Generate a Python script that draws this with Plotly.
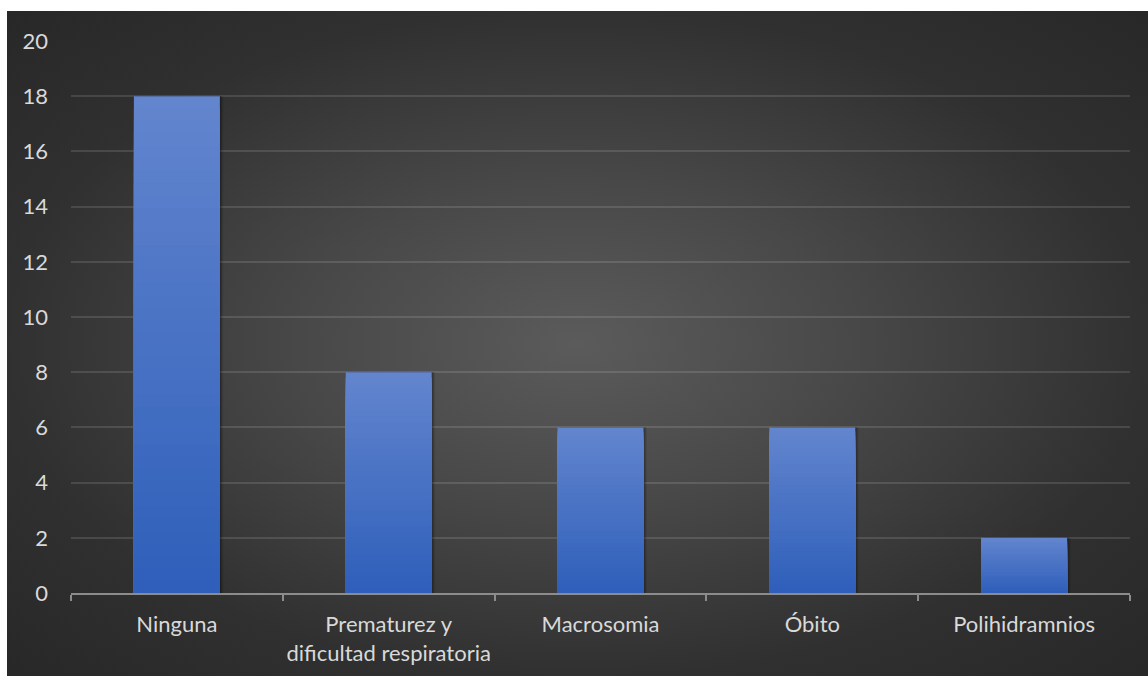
import base64
import plotly.graph_objects as go

# Data
categories = ["Ninguna", "Prematurez y<br>dificultad respiratoria", "Macrosomia", "Óbito", "Polihidramnios"]
values = [18, 8, 6, 6, 2]
y_ticks = list(range(0, 21, 2))

# Figure geometry (pixels)
W, H = 1148, 677
M_L, M_R, M_T, M_B = 71, 18, 41, 84
BOX = (7, 11, 1148, 676)  # dark panel: x0, y0, x1, y1

TEXT = "#d9d9d9"
BAR_BOTTOM = (0x2E, 0x5F, 0xBA)
BAR_TOP = (0x63, 0x85, 0xCE)
BAR_W = 0.406
N_LAYERS = 40


def mix(a, b, t):
    return "rgb({},{},{})".format(*[round(a[i] + (b[i] - a[i]) * t) for i in range(3)])


fig = go.Figure()

# Soft drop shadow to the right of each bar
for dx, alpha in [(0.016, 0.10), (0.010, 0.14), (0.005, 0.18)]:
    fig.add_trace(go.Bar(
        x=categories, y=values, width=BAR_W, offset=-BAR_W / 2 + dx,
        marker=dict(color=f"rgba(0,0,0,{alpha})", line=dict(width=0)),
        hoverinfo="skip", showlegend=False,
    ))

# Vertical shading: overlapping bars, tallest (lightest) first, shorter darker ones on top
for k in range(N_LAYERS):
    frac = (N_LAYERS - k) / N_LAYERS
    t = (N_LAYERS - k - 0.5) / N_LAYERS
    fig.add_trace(go.Bar(
        x=categories,
        y=[v * frac for v in values],
        width=BAR_W,
        marker=dict(color=mix(BAR_BOTTOM, BAR_TOP, t), line=dict(width=0)),
        hoverinfo="skip",
        showlegend=False,
    ))

# Radial background panel
svg = f"""<svg xmlns='http://www.w3.org/2000/svg' width='{BOX[2]-BOX[0]}' height='{BOX[3]-BOX[1]}' preserveAspectRatio='none'>
<defs><radialGradient id='g' cx='0.5' cy='0.5' r='0.72'>
<stop offset='0' stop-color='#5b5b5b'/>
<stop offset='0.34' stop-color='#484848'/>
<stop offset='0.7' stop-color='#303030'/>
<stop offset='1' stop-color='#272727'/>
</radialGradient></defs>
<rect width='100%' height='100%' fill='url(#g)'/></svg>"""
src = "data:image/svg+xml;base64," + base64.b64encode(svg.encode()).decode()

pw, ph = W - M_L - M_R, H - M_T - M_B
px0 = (BOX[0] - M_L) / pw
px1 = (BOX[2] - M_L) / pw
py0 = (H - M_B - BOX[1]) / ph
py1 = (H - M_B - BOX[3]) / ph

fig.update_layout(
    width=W, height=H,
    margin=dict(l=M_L, r=M_R, t=M_T, b=M_B, pad=0),
    paper_bgcolor="white",
    plot_bgcolor="rgba(0,0,0,0)",
    barmode="overlay",
    font=dict(family="Lato, Carlito, sans-serif", size=22, color=TEXT),
    images=[dict(
        source=src, xref="paper", yref="paper",
        x=px0, y=py0, sizex=px1 - px0, sizey=py0 - py1,
        xanchor="left", yanchor="top", sizing="stretch", layer="below",
    )],
    xaxis=dict(
        showgrid=False, automargin=False, tickangle=0,
        showline=True, linecolor="#8c8c8c", linewidth=2,
        ticks="outside", tickson="boundaries", ticklen=6, tickwidth=2, tickcolor="#8c8c8c",
        ticklabelstandoff=11,
        tickfont=dict(size=22, color=TEXT),
    ),
    yaxis=dict(
        range=[0, 20], tickvals=y_ticks, automargin=False,
        showgrid=True, gridcolor="rgba(255,255,255,0.12)", gridwidth=1.5,
        zeroline=False, showline=False, ticks="",
        ticklabelstandoff=22,
        tickfont=dict(size=22, color=TEXT),
    ),
)

fig.write_html("out.html")
